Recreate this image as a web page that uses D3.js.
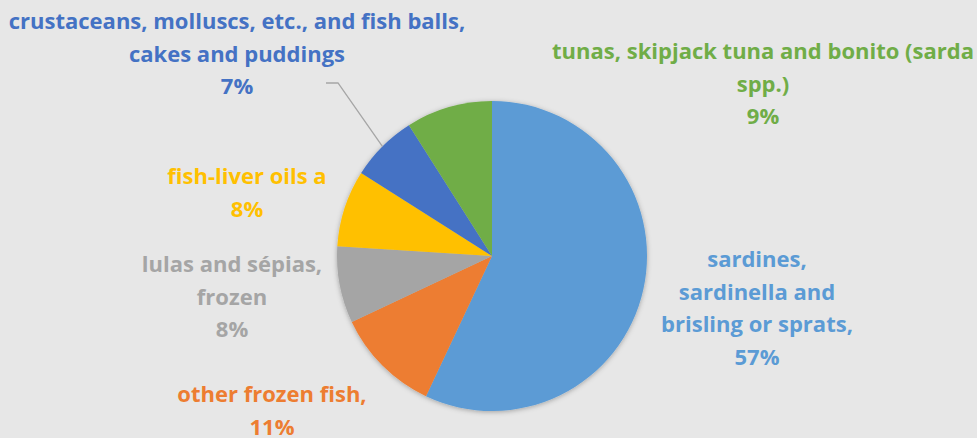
<!DOCTYPE html>
<html>
<head>
<meta charset="utf-8">
<script src="https://cdn.jsdelivr.net/npm/d3@7"></script>
<style>
  html, body { margin: 0; padding: 0; background: #e7e7e7; }
  svg { display: block; }
  text { font-family: "Open Sans", Lato, sans-serif; font-weight: 700; }
</style>
</head>
<body>
<svg id="chart" width="977" height="438"></svg>
<script>
'use strict';

// ---- Data -------------------------------------------------------------------

const categories = [
  'sardines, sardinella and brisling or sprats',
  'other frozen fish',
  'lulas and sépias, frozen',
  'fish-liver oils a',
  'crustaceans, molluscs, etc., and fish balls, cakes and puddings',
  'tunas, skipjack tuna and bonito (sarda spp.)'
];
const shares = [57, 11, 8, 8, 7, 9];
const colors = ['#5b9bd5', '#ed7d31', '#a5a5a5', '#ffc000', '#4472c4', '#70ad47'];

// Label lines as wrapped in the original, plus anchor points (centre of block).
const labelLines = [
  ['sardines,', 'sardinella and', 'brisling or sprats,', '57%'],
  ['other frozen fish,', '11%'],
  ['lulas and sépias,', 'frozen', '8%'],
  ['fish-liver oils a', '8%'],
  ['crustaceans, molluscs, etc., and fish balls,', 'cakes and puddings', '7%'],
  ['tunas, skipjack tuna and bonito (sarda', 'spp.)', '9%']
];
const labelPos = [[757, 258], [272, 393], [232, 263], [247, 175], [237, 20], [763, 50]];

// ---- Layout -----------------------------------------------------------------

const svg = d3.select('#chart');
const CX = 492, CY = 256, R = 155;
const LINE_H = 32.5;

const defs = svg.append('defs');
const shadow = defs.append('filter').attr('id', 'shadow')
  .attr('x', '-10%').attr('y', '-10%').attr('width', '120%').attr('height', '120%');
shadow.append('feDropShadow')
  .attr('dx', 0).attr('dy', 1).attr('stdDeviation', 2.5)
  .attr('flood-color', '#000').attr('flood-opacity', 0.3);

const pie = d3.pie().sort(null).value(d => d);
const arc = d3.arc().innerRadius(0).outerRadius(R);
const arcs = pie(shares);

const g = svg.append('g').attr('transform', `translate(${CX},${CY})`);
g.append('g').attr('filter', 'url(#shadow)')
  .selectAll('path')
  .data(arcs)
  .join('path')
  .attr('d', arc)
  .attr('fill', (d, i) => colors[i]);

// Leader line for the crustaceans label.
const crust = arcs[4];
const midA = (crust.startAngle + crust.endAngle) / 2;
const edge = [Math.sin(midA) * R + CX, -Math.cos(midA) * R + CY];
svg.append('path')
  .attr('d', d3.line()([[326, 83], [338, 83], edge]))
  .attr('fill', 'none')
  .attr('stroke', '#a6a6a6')
  .attr('stroke-width', 1.3);

// ---- Labels -----------------------------------------------------------------

labelLines.forEach((lines, i) => {
  const [x, y] = labelPos[i];
  const t = svg.append('text')
    .attr('x', x)
    .attr('y', y)
    .attr('text-anchor', 'middle')
    .attr('dominant-baseline', 'central')
    .attr('font-size', 22)
    .attr('fill', colors[i]);
  lines.forEach((line, j) => {
    t.append('tspan').attr('x', x).attr('y', y + j * LINE_H).text(line);
  });
});
</script>
</body>
</html>
